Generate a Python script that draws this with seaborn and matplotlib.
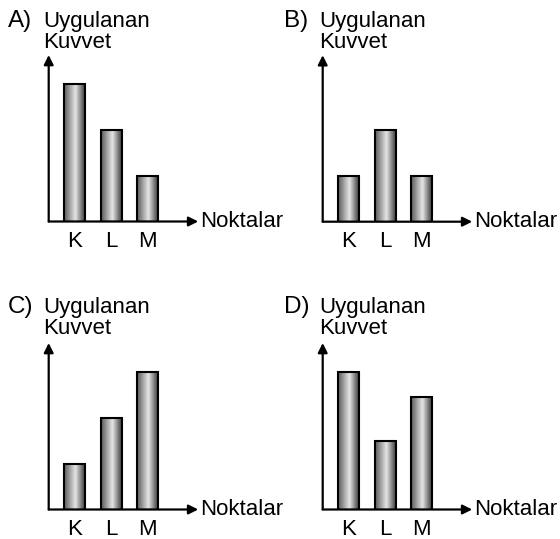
import numpy as np
import pandas as pd
import matplotlib
matplotlib.use('Agg')
import matplotlib.pyplot as plt
from matplotlib.colors import LinearSegmentedColormap
import seaborn as sns

# chart data
categories = ['K', 'L', 'M']
panel_letters = ['A)', 'B)', 'C)', 'D)']
values_a = [3, 2, 1]
values_b = [1, 2, 1]
values_c = [1, 2, 3]
values_d = [3, 1.5, 2.45]
y_title = ['Uygulanan', 'Kuvvet']
x_title = 'Noktalar'

W, H = 560, 539
sns.set_style('white')
plt.rcParams['font.family'] = ['Liberation Sans', 'DejaVu Sans']
plt.rcParams['text.color'] = 'black'
plt.rcParams['xtick.color'] = 'black'
plt.rcParams['xtick.labelcolor'] = 'black'

fig = plt.figure(figsize=(W / 100, H / 100), dpi=100)

bar_cmap = LinearSegmentedColormap.from_list(
    'cyl', [(0.0, '#5a5a5a'), (0.55, '#e6e6e6'), (1.0, '#3c3c3c')])
grad = np.linspace(0, 1, 64).reshape(1, -1)

UNIT = 46.0      # pixels per value unit
STEP = 36.5      # pixels between bar centres


def px_rect(x0, y_base, w, h):
    return [x0 / W, (H - y_base) / H, w / W, h / H]


def draw_panel(vals, letter, origin, text_base):
    ox, oy = origin
    w_px, h_px = 149.5, 166.5
    ax = fig.add_axes(px_rect(ox, oy, w_px, h_px))
    df = pd.DataFrame({'nokta': categories, 'kuvvet': vals})
    sns.barplot(data=df, x='nokta', y='kuvvet', ax=ax, width=0.575,
                color='#999999', edgecolor='black', linewidth=1.5)
    x_left = -26.0 / STEP

    for p in ax.patches:
        x0, y0 = p.get_x(), p.get_y()
        bw, bh = p.get_width(), p.get_height()
        ax.imshow(grad, cmap=bar_cmap, aspect='auto', zorder=2,
                  extent=(x0, x0 + bw, y0, y0 + bh), interpolation='bilinear')
        p.set_facecolor('none')
        p.set_zorder(3)
    ax.set_xlim(x_left, x_left + w_px / STEP)
    ax.set_ylim(0, h_px / UNIT)

    for s in ax.spines.values():
        s.set_visible(False)
    ax.set_xlabel('')
    ax.set_ylabel('')
    ax.set_yticks([])
    ax.tick_params(axis='x', length=0, labelsize=16, pad=7)

    arrow = dict(arrowstyle='-|>', lw=1.6, color='black',
                 mutation_scale=14, shrinkA=0, shrinkB=0)
    ax.annotate('', xy=(0, 1), xytext=(0, 0), xycoords='axes fraction',
                arrowprops=arrow, annotation_clip=False, zorder=4)
    ax.annotate('', xy=(1, 0), xytext=(0, 0), xycoords='axes fraction',
                arrowprops=arrow, annotation_clip=False, zorder=4)
    ax.text(1.0 + 1.5 / w_px, 0, x_title, transform=ax.transAxes,
            ha='left', va='center', fontsize=16)

    lx, ly = text_base
    fig.text(lx / W, 1 - ly / H, letter, fontsize=17.5, va='baseline', ha='left')
    fig.text((lx + 35) / W, 1 - ly / H, y_title[0], fontsize=16,
             va='baseline', ha='left')
    fig.text((lx + 35) / W, 1 - (ly + 21) / H, y_title[1], fontsize=16,
             va='baseline', ha='left')
    return ax


draw_panel(values_a, panel_letters[0], (48.7, 221.5), (8, 27))
draw_panel(values_b, panel_letters[1], (322.7, 221.7), (284, 27))
draw_panel(values_c, panel_letters[2], (48.7, 509.5), (8, 313))
draw_panel(values_d, panel_letters[3], (322.7, 509.5), (284, 313))

plt.savefig('out.png', dpi=100)
